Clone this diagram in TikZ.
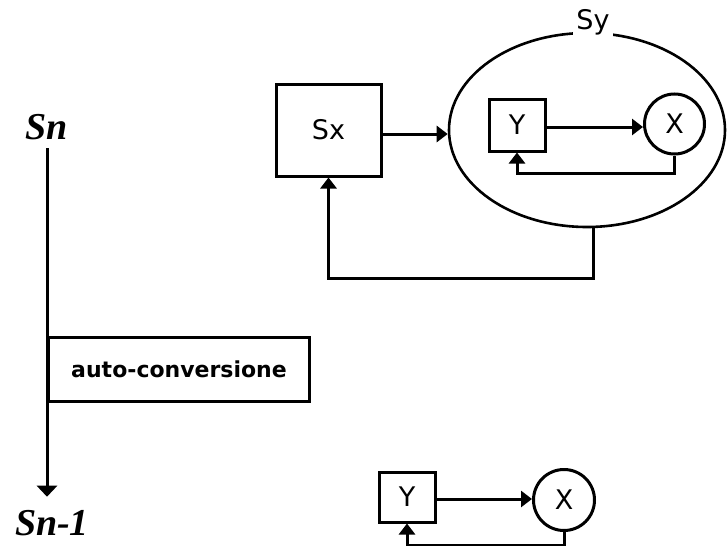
\documentclass[tikz,border=0pt]{standalone}
\usepackage{fontspec}
\setmainfont{Liberation Serif}
\newfontfamily\boxfont{DejaVu Sans}
\usepackage{tikz}
\usetikzlibrary{arrows.meta, shapes.geometric}
\tikzset{every node/.append style={font=\boxfont\fontsize{27}{30}\selectfont}}

\begin{document}
\begin{tikzpicture}[x=1pt, y=-1pt, line width=3pt,
    arr/.style={-{Triangle[length=11pt, width=16pt]}},
    box/.style={draw, inner sep=0pt},
    ring/.style={draw, circle, inner sep=0pt, minimum size=60pt},
    lbl/.style={font=\bfseries\itshape\fontsize{38}{42}\selectfont, inner sep=2pt}]
    \useasboundingbox (0,0) rectangle (728,546);
    % state labels
    \node[lbl] (sn) at (47,127) {Sn};
    \node[lbl] (sn1) at (52,523) {Sn-1};
    \node[box, font=\boxfont\bfseries\fontsize{22}{26}\selectfont, minimum width=261pt, minimum height=64pt, anchor=west] (conv) at (47,369) {auto-conversione};
    % upper system
    \node[box, minimum width=105pt, minimum height=92pt] (sx) at (328.5,130) {Sx};
    \node[draw, ellipse, line width=2.6pt, inner sep=0pt, minimum width=276pt, minimum height=194pt] (sy) at (587,130) {};
    \node[fill=white, inner sep=3pt] (sylab) at (593,22) {Sy};
    \node[box, minimum width=56pt, minimum height=52pt] (y1) at (517,125) {Y};
    \node[ring] (x1) at (674.5,124) {X};
    % lower system
    \node[box, minimum width=56pt, minimum height=50pt] (y2) at (407,497) {Y};
    \node[ring, minimum size=61pt] (x2) at (564,500) {X};
    % arrows
    \draw[-{Triangle[length=11pt, width=20pt]}, shorten <=5pt, shorten >=10pt] (sn.south) -- (sn.south |- sn1.north);
    \draw[arr] ([yshift=-4pt]sx.east) -- ([yshift=-4pt]sx.east -| sy.west);
    \draw[arr] ([xshift=6pt]sy.south) -- ++(0,50) -| (sx.south);
    \foreach \a/\b in {y1/x1, y2/x2} \draw[arr] ([yshift=-2pt]\a.east) -- ([yshift=-2pt]\a.east -| \b.west);
    \draw[arr] (x1.south) -- ++(0,18) -| (y1.south);
    \draw[arr] (x2.south) -- ++(0,13) -| (y2.south);
\end{tikzpicture}
\end{document}
